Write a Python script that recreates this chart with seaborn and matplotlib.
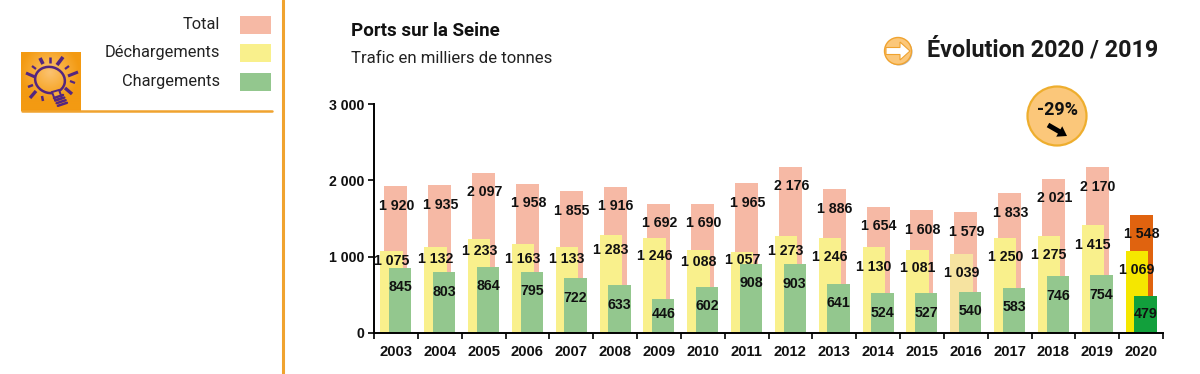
import matplotlib
matplotlib.use("Agg")
import matplotlib.pyplot as plt
from matplotlib.patches import Circle, Rectangle, FancyArrow, Polygon, Ellipse
import numpy as np
import pandas as pd
import seaborn as sns

years = ["2003", "2004", "2005", "2006", "2007", "2008", "2009", "2010", "2011",
         "2012", "2013", "2014", "2015", "2016", "2017", "2018", "2019", "2020"]
total = [1920, 1935, 2097, 1958, 1855, 1916, 1692, 1690, 1965,
         2176, 1886, 1654, 1608, 1579, 1833, 2021, 2170, 1548]
decharg = [1075, 1132, 1233, 1163, 1133, 1283, 1246, 1088, 1057,
           1273, 1246, 1130, 1081, 1039, 1250, 1275, 1415, 1069]
charg = [845, 803, 864, 795, 722, 633, 446, 602, 908,
         903, 641, 524, 527, 540, 583, 746, 754, 479]
legend_labels = ["Total", "Déchargements", "Chargements"]
y_ticks = [0, 1000, 2000, 3000]
y_tick_labels = ["0", "1 000", "2 000", "3 000"]

PINK, YELLOW, GREEN = "#f6b9a5", "#f9f08c", "#93c78e"
HOT_PINK, HOT_YELLOW, HOT_GREEN = "#e0630f", "#f5e700", "#12a03c"
ORANGE = "#f0a32f"
COND = ["Roboto", "DejaVu Sans"]

sns.set_style("white")
plt.rcParams["font.family"] = ["Liberation Sans", "DejaVu Sans"]

W, H = 1200, 374
fig = plt.figure(figsize=(W / 100, H / 100), dpi=100)
ax = fig.add_axes([374 / W, 1 - 333 / H, (1163 - 374) / W, (333 - 104) / H])
ax.patch.set_visible(False)

# page layer in pixel coordinates
bg = fig.add_axes([0, 0, 1, 1], zorder=-1)
bg.axis("off")
top = fig.add_axes([0, 0, 1, 1], zorder=5)
top.axis("off")


def fmt(v):
    return f"{v:,}".replace(",", " ")


def bars(values, colors, shift, width, offsets, lab_dx=0.0):
    df = pd.DataFrame({"year": years, "value": values})
    before = len(ax.patches)
    sns.barplot(data=df, x="year", y="value", hue="year", palette=colors, legend=False,
                width=width, saturation=1, linewidth=0, ax=ax, zorder=2)
    for p in ax.patches[before:]:
        p.set_x(p.get_x() + shift)
    for i, v in enumerate(values):
        ax.annotate(fmt(v), (i + shift + lab_dx, v), xytext=(0, -offsets[i] * 0.72), textcoords="offset points",
                    ha="center", va="center", fontsize=10.2, fontweight="bold", color="#111111", zorder=5)


yellow_off = [10, 12, 12, 15, 12, 15, 18, 12, 8, 15, 19, 20, 18, 19, 19, 19, 20, 19]
green_off = [19, 20, 19, 19, 20, 20, 15, 19, 19, 20, 19, 20, 20, 19, 19, 20, 20, 18]
bars(total, [PINK] * 17 + [HOT_PINK], 0.0, 0.525, [19.5] * 18, 0.02)
bars(decharg, [YELLOW] * 13 + ["#f6e3a0"] + [YELLOW] * 3 + [HOT_YELLOW], -0.1, 0.51, yellow_off)
bars(charg, [GREEN] * 17 + [HOT_GREEN], 0.1, 0.51, green_off)

ax.set_xlim(-0.5, 17.5)
ax.set_ylim(0, 3000)
ax.set_xlabel("")
ax.set_ylabel("")
ax.set_yticks(y_ticks, y_tick_labels)
ax.set_xticks(np.arange(-0.5, 18), minor=True)
ax.tick_params(axis="x", which="minor", bottom=True, length=4, width=1.2, color="black")
ax.tick_params(axis="x", which="major", bottom=False, pad=5)
ax.tick_params(axis="y", left=True, length=4, width=1.2, color="black", pad=3)
for lab in ax.get_xticklabels():
    lab.set_fontsize(10.7)
    lab.set_fontweight("bold")
    lab.set_color("#111111")
for lab in ax.get_yticklabels():
    lab.set_fontsize(10.2)
    lab.set_fontweight("bold")
    lab.set_color("#111111")
sns.despine(ax=ax)
for s in ["left", "bottom"]:
    ax.spines[s].set_linewidth(1.4)
    ax.spines[s].set_color("black")

# left panel
bg.plot([283, 283], [0, 374], color=ORANGE, lw=2.2)
bg.plot([22, 272], [111, 111], color=ORANGE, lw=1.8)
for lab, col, y in zip(legend_labels, [PINK, YELLOW, GREEN], [25, 53, 82]):
    bg.add_patch(Rectangle((240, y - 9), 31, 18, color=col, lw=0))
    bg.text(220, y - 1, lab, ha="right", va="center", fontsize=11.8, color="#222222", family=COND)

# lightbulb icon
gx, gy = np.meshgrid(np.linspace(21, 81, 60), np.linspace(52, 111, 60))
glow = np.clip(np.hypot(gx - 50, gy - 72) / 30, 0, 1)
cmap = matplotlib.colors.LinearSegmentedColormap.from_list("ic", ["#fbc270", "#f8ae3c", "#f39a12"])
bg.imshow(glow, extent=(21, 81, 111, 52), cmap=cmap, aspect="auto", zorder=1)
PURPLE = "#54267f"
bg.add_patch(Ellipse((50, 80), 30, 26, angle=15, fc="none", ec=PURPLE, lw=1.8, zorder=2))
bg.add_patch(Polygon([[52, 92], [59, 90], [62, 98], [55, 100]], fc="#f8ae3c", ec=PURPLE, lw=1.4, zorder=3))
for k in range(4):
    bg.plot([54 + k * 1.3, 63 + k * 1.3], [98 + k * 2.6, 95 + k * 2.6], color=PURPLE, lw=1.8, zorder=4)
rays = [((40, 58), (43, 64), 2.6), ((50, 57), (50, 63), 1.8), ((63, 57), (57, 65), 2.6),
        ((78, 72), (68, 76), 2.2), ((26, 73), (35, 77), 2.2), ((30, 98), (36, 91), 2.4),
        ((43, 101), (42, 96), 1.8), ((72, 94), (65, 88), 2.4), ((75, 83), (70, 81), 1.6),
        ((32, 66), (36, 69), 1.6), ((69, 66), (65, 69), 1.6), ((28, 87), (33, 85), 1.8)]
for p0, p1, lw in rays:
    bg.plot([p0[0], p1[0]], [p0[1], p1[1]], color=PURPLE, lw=lw, zorder=2, solid_capstyle="butt")
bg.set_xlim(0, W)
bg.set_ylim(H, 0)

# titles
bg.text(351, 31, "Ports sur la Seine", fontsize=13.5, fontweight="bold", va="center", color="#111111", family=COND)
bg.text(351, 58, "Trafic en milliers de tonnes", fontsize=12.1, va="center", color="#222222", family=COND)
bg.text(927, 50, "Évolution 2020 / 2019", fontsize=16.8, fontweight="bold", va="center", color="#1a1a1a", family=COND)

# arrow bullet
bg.add_patch(Circle((899, 52), 13.5, fc="#b9b9b9", lw=0))
bg.add_patch(Circle((898, 51), 13.5, fc="#fbc77a", ec="#f0a32f", lw=1))
bg.add_patch(FancyArrow(886, 51, 24, 0, width=7, head_width=18, head_length=10,
                        length_includes_head=True, fc="white", ec="#f0a32f", lw=0.8))

# badge
top.set_xlim(0, W)
top.set_ylim(H, 0)
top.add_patch(Circle((1057, 116), 29.5, fc="#fbc77a", ec="#eeae2e", lw=1.6))
top.text(1057, 110, "-29%", fontsize=13, fontweight="bold", ha="center", va="center", color="#111111", family=COND)
top.add_patch(FancyArrow(1048, 125, 19, 11, width=5, head_width=12, head_length=9,
                         length_includes_head=True, fc="black", ec="black", lw=0))

fig.savefig("out.png", dpi=100)
